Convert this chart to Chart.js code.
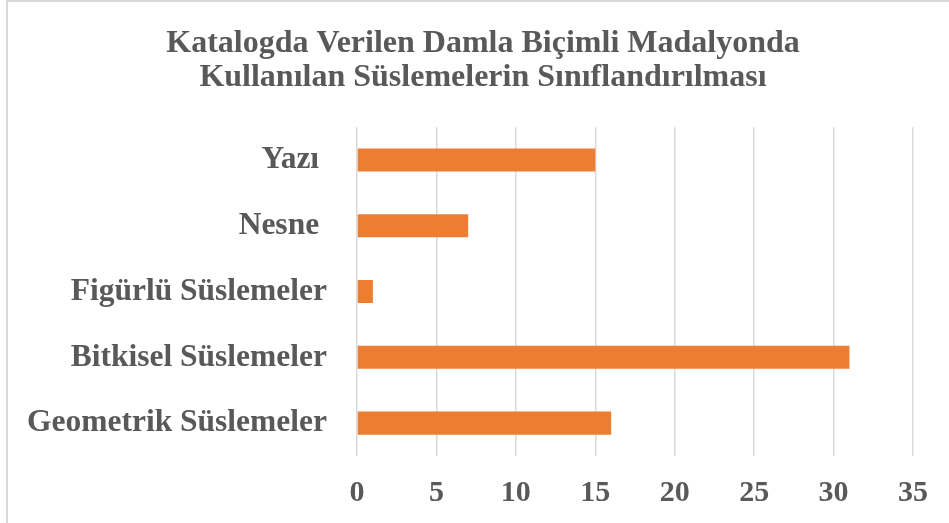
<!DOCTYPE html>
<html>
<head>
<meta charset="utf-8">
<script src="https://cdn.jsdelivr.net/npm/chart.js@4/dist/chart.umd.min.js"></script>
<style>
  html, body { margin: 0; padding: 0; background: #fff; overflow: hidden; }
  #frame { position: absolute; left: 6px; top: 0; width: 1200px; height: 700px; border: 2px solid #d9d9d9; }
  #wrap { position: absolute; left: 0; top: 0; width: 949px; height: 523px; }
</style>
</head>
<body>
<div id="frame"></div>
<div id="wrap"><canvas id="c" width="949" height="523"></canvas></div>
<script>
// categories top to bottom, as in the picture
const categories = ['Yazı ', 'Nesne ', 'Figürlü Süslemeler', 'Bitkisel Süslemeler', 'Geometrik Süslemeler'];
const counts = [15, 7, 1, 31, 16];
const titleLines = ['Katalogda Verilen Damla Biçimli Madalyonda', 'Kullanılan Süslemelerin Sınıflandırılması'];
const xMax = 35;
const xStep = 5;

const grey = '#595959';
const serif = "'Liberation Serif', 'Times New Roman', serif";

// let the long category labels run past the left padding instead of being clipped
const unclipLabels = {
    id: 'unclipLabels',
    afterLayout(chart) { chart.scales.y.left = 0; }
};

new Chart(document.getElementById('c'), {
    type: 'bar',
    data: {
        labels: categories,
        datasets: [{
            data: counts,
            backgroundColor: '#ED7D31',
            borderWidth: 0,
            barPercentage: 0.35,
            categoryPercentage: 1
        }]
    },
    plugins: [unclipLabels],
    options: {
        indexAxis: 'y',
        responsive: false,
        animation: false,
        layout: { padding: { left: 53, right: 36, top: 0, bottom: 0 } },
        plugins: {
            legend: { display: false },
            tooltip: { enabled: false },
            title: {
                display: true,
                text: titleLines,
                color: grey,
                font: { family: serif, size: 32, weight: 'bold', lineHeight: 1.05 },
                padding: { top: 27, bottom: 33 }
            }
        },
        scales: {
            x: {
                min: 0,
                max: xMax,
                afterFit: (s) => { s.height = 67; },
                ticks: {
                    stepSize: xStep,
                    color: grey,
                    padding: 19,
                    font: { family: serif, size: 30, weight: 'bold' }
                },
                grid: { color: '#d9d9d9', lineWidth: 1.5, drawTicks: false },
                border: { display: false }
            },
            y: {
                afterFit: (s) => { s.width = 304; },
                ticks: {
                    color: grey,
                    padding: 30,
                    font: { family: serif, size: 31.5, weight: 'bold' }
                },
                grid: { display: false, drawTicks: false },
                border: { display: false }
            }
        }
    }
});
</script>
</body>
</html>
